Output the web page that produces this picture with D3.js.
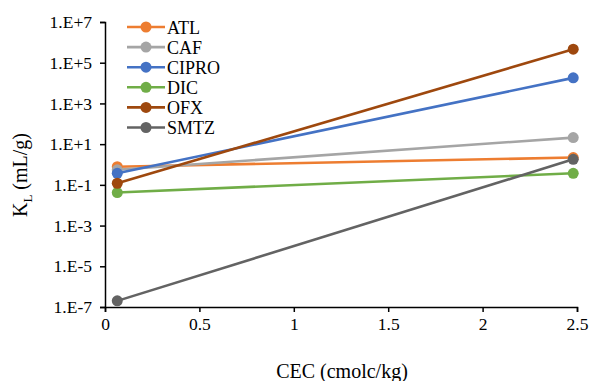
<!DOCTYPE html>
<html>
<head>
<meta charset="utf-8">
<script src="https://cdn.jsdelivr.net/npm/d3@7"></script>
<style>
  body { margin: 0; background: #fff; }
  svg text { font-family: "Liberation Serif", "Times New Roman", serif; fill: #000; }
</style>
</head>
<body>
<svg id="chart" width="590" height="381"></svg>
<script>
// soil CEC for the two soils, and sorption coefficient KL per compound
var cec = [0.065, 2.48]
var compounds = ['ATL', 'CAF', 'CIPRO', 'DIC', 'OFX', 'SMTZ']
var colors = ['#ED7D31', '#A5A5A5', '#4472C4', '#70AD47', '#9E480E', '#636363']
var kl = {
  ATL: [0.78, 2.2],
  CAF: [0.55, 21],
  CIPRO: [0.37, 18000],
  DIC: [0.042, 0.37],
  OFX: [0.12, 460000],
  SMTZ: [2.0e-7, 1.8]
}
var xTicks = [0, 0.5, 1, 1.5, 2, 2.5]
var yTicks = [1e-7, 1e-5, 1e-3, 1e-1, 1e1, 1e3, 1e5, 1e7]

var serif = '"Liberation Serif", "Times New Roman", serif'
var svg = d3.select('#chart')
var margin = { left: 105, top: 22, right: 13, bottom: 74 }
var width = +svg.attr('width')
  , height = +svg.attr('height')

var x = d3.scaleLinear().domain([0, 2.5]).range([margin.left, width - margin.right])
var y = d3.scaleLog().domain([1e-7, 1e7]).range([height - margin.bottom, margin.top])

var fmtExp = function(v) {
  var e = Math.round(Math.log10(v))
  return '1.E' + (e < 0 ? '-' : '+') + Math.abs(e)
}

var xAxis = svg.append('g')
  .attr('transform', 'translate(0,' + (height - margin.bottom) + ')')
  .call(d3.axisBottom(x).tickValues(xTicks).tickSize(5).tickPadding(6).tickFormat(d3.format('')))
var yAxis = svg.append('g')
  .attr('transform', 'translate(' + margin.left + ',0)')
  .call(d3.axisLeft(y).tickValues(yTicks).tickSize(5).tickPadding(8).tickFormat(fmtExp))

;[xAxis, yAxis].forEach(function(ax) {
  ax.attr('font-family', serif).attr('font-size', 17.5)
  ax.selectAll('path, line').attr('stroke', '#000').attr('stroke-width', 1.5)
  ax.selectAll('text').style('font-family', serif).style('font-size', '17.5px')
})

var line = d3.line()
  .x(function(d) { return x(d[0]) })
  .y(function(d) { return y(d[1]) })

compounds.forEach(function(name, i) {
  var pts = cec.map(function(c, j) { return [c, kl[name][j]] })
  var g = svg.append('g')
  g.append('path')
    .attr('d', line(pts))
    .attr('fill', 'none')
    .attr('stroke', colors[i])
    .attr('stroke-width', 2.6)
  g.selectAll('circle').data(pts)
    .enter().append('circle')
    .attr('cx', function(d) { return x(d[0]) })
    .attr('cy', function(d) { return y(d[1]) })
    .attr('r', 5.5)
    .attr('fill', colors[i])
})

// legend
var legend = svg.append('g').attr('transform', 'translate(127,27)')
compounds.forEach(function(name, i) {
  var row = legend.append('g').attr('transform', 'translate(0,' + (i * 20.1) + ')')
  row.append('line').attr('x1', 0).attr('x2', 38).attr('y1', 0).attr('y2', 0)
    .attr('stroke', colors[i]).attr('stroke-width', 2.6)
  row.append('circle').attr('cx', 19).attr('cy', 0).attr('r', 5.5).attr('fill', colors[i])
  row.append('text').attr('x', 40).attr('y', 6.5).attr('font-size', 18).text(name)
})

// axis titles
svg.append('text')
  .attr('x', 342).attr('y', 378)
  .attr('text-anchor', 'middle')
  .attr('font-size', 20)
  .text('CEC (cmolc/kg)')

var yTitle = svg.append('text')
  .attr('transform', 'translate(27,175) rotate(-90)')
  .attr('text-anchor', 'middle')
  .attr('font-size', 20)
yTitle.append('tspan').text('K')
yTitle.append('tspan').attr('font-size', 13).attr('dy', 5).text('L')
yTitle.append('tspan').attr('dy', -5).text(' (mL/g)')
</script>
</body>
</html>
